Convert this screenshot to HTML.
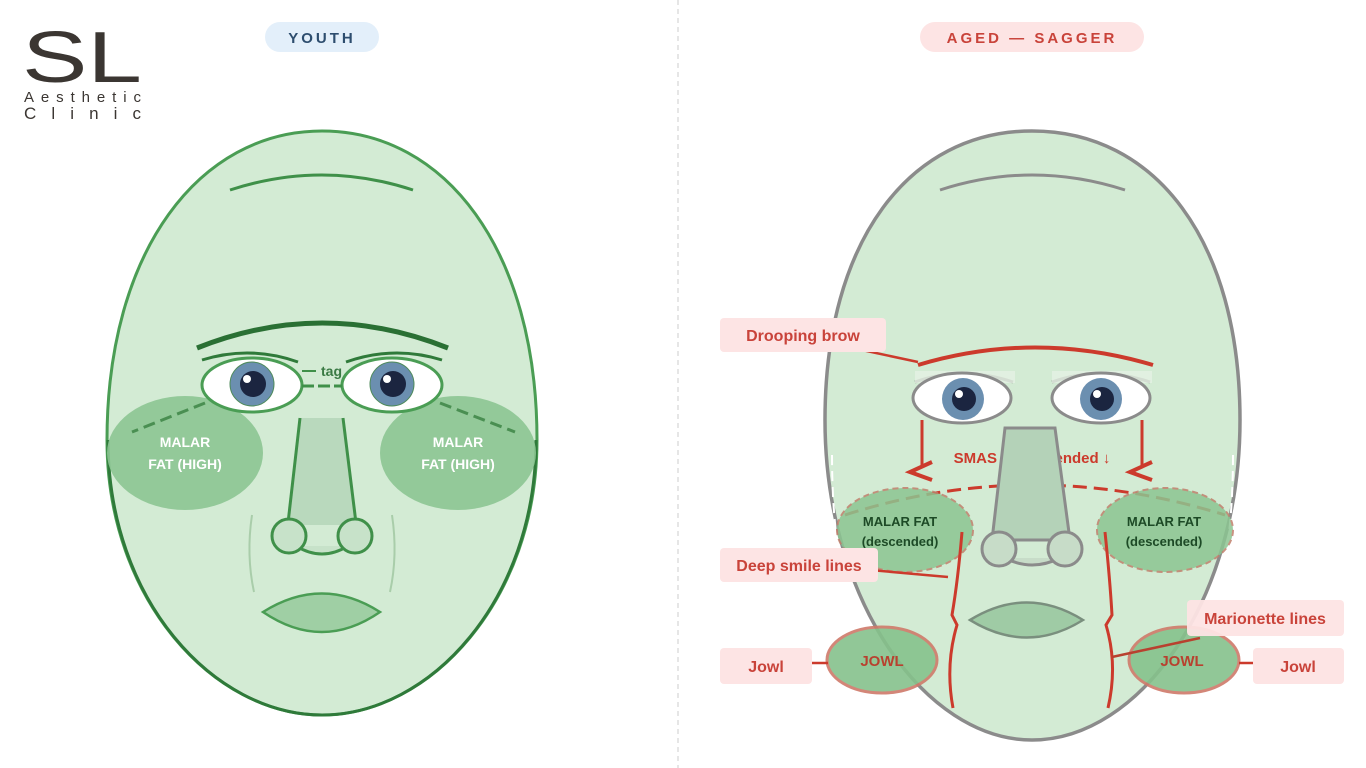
<!DOCTYPE html>
<html><head><meta charset="utf-8"><style>
html,body{margin:0;padding:0;background:#fff;}
svg{display:block;font-family:"Liberation Sans",sans-serif;}
</style></head><body>
<svg width="1366" height="768" viewBox="0 0 1366 768" xmlns="http://www.w3.org/2000/svg">
<rect width="1366" height="768" fill="#fff"/>
<line x1="678" y1="0" x2="678" y2="768" stroke="#ddd" stroke-width="1.5" stroke-dasharray="5,4"/>
<!-- logo -->
<text x="22" y="82" font-size="72" fill="#3b3632" textLength="120" lengthAdjust="spacingAndGlyphs" style="font-weight:300">SL</text>
<text x="24" y="102" font-size="15" fill="#3b3632" textLength="117" lengthAdjust="spacing">Aesthetic</text>
<text x="24" y="119" font-size="17" fill="#3b3632" textLength="117" lengthAdjust="spacing">Clinic</text>
<!-- pills -->
<rect x="265" y="22" width="114" height="30" rx="15" fill="#e3effa"/>
<text x="322" y="43" font-size="15" font-weight="bold" fill="#2d4d6e" text-anchor="middle" letter-spacing="3">YOUTH</text>
<rect x="920" y="22" width="224" height="30" rx="15" fill="#fde4e4"/>
<text x="1032" y="43" font-size="15" font-weight="bold" fill="#c9433a" text-anchor="middle" letter-spacing="3">AGED — SAGGER</text>

<!-- LEFT FACE -->
<path d="M322,131 C445,131 537,250 537,440 C537,600 430,715 322,715 C214,715 107,600 107,440 C107,250 200,131 322,131Z" fill="#d3ebd4" stroke="#4a9d54" stroke-width="3"/>
<path d="M108,440 C108,600 214,715 322,715 C430,715 536,600 536,440" fill="none" stroke="#2f7a3a" stroke-width="3"/>
<path d="M230,190 Q322,160 413,190" fill="none" stroke="#3f9049" stroke-width="3"/>
<path d="M197,348 Q322,298 448,348" fill="none" stroke="#2a7034" stroke-width="5"/>
<!-- malar -->
<ellipse cx="185" cy="453" rx="78" ry="57" fill="#8cc592" opacity="0.9"/>
<ellipse cx="458" cy="453" rx="78" ry="57" fill="#8cc592" opacity="0.9"/>
<path d="M205,403 L132,432" stroke="#4a8f52" stroke-width="3" stroke-dasharray="12,6" fill="none"/>
<path d="M440,403 L515,432" stroke="#4a8f52" stroke-width="3" stroke-dasharray="12,6" fill="none"/>
<text x="185" y="447" font-size="14" font-weight="bold" fill="#fff" text-anchor="middle">MALAR</text>
<text x="185" y="469" font-size="14" font-weight="bold" fill="#fff" text-anchor="middle">FAT (HIGH)</text>
<text x="458" y="447" font-size="14" font-weight="bold" fill="#fff" text-anchor="middle">MALAR</text>
<text x="458" y="469" font-size="14" font-weight="bold" fill="#fff" text-anchor="middle">FAT (HIGH)</text>
<!-- eyes -->
<path d="M202,360 Q250,345 298,362" fill="none" stroke="#2f7a3a" stroke-width="3"/>
<path d="M346,362 Q394,345 442,360" fill="none" stroke="#2f7a3a" stroke-width="3"/>
<ellipse cx="252" cy="385" rx="50" ry="27" fill="#fff" stroke="#4a9d54" stroke-width="3"/>
<ellipse cx="392" cy="385" rx="50" ry="27" fill="#fff" stroke="#4a9d54" stroke-width="3"/>
<circle cx="252" cy="384" r="22" fill="#6b8fb0" stroke="#4e8a5a" stroke-width="1"/>
<circle cx="253" cy="384" r="13" fill="#1b2540"/>
<circle cx="247" cy="379" r="4" fill="#fff"/>
<circle cx="392" cy="384" r="22" fill="#6b8fb0" stroke="#4e8a5a" stroke-width="1"/>
<circle cx="393" cy="384" r="13" fill="#1b2540"/>
<circle cx="387" cy="379" r="4" fill="#fff"/>
<line x1="302" y1="386" x2="342" y2="386" stroke="#3f9049" stroke-width="3" stroke-dasharray="12,4"/>
<line x1="302" y1="371" x2="316" y2="371" stroke="#3f9049" stroke-width="2"/>
<text x="321" y="376" font-size="14" font-weight="bold" fill="#3a7a44">tag</text>
<!-- nose -->
<polygon points="300,418 343,418 356,525 288,525" fill="#b9d9bd"/>
<line x1="300" y1="418" x2="288" y2="523" stroke="#3f9049" stroke-width="3"/>
<line x1="343" y1="418" x2="356" y2="523" stroke="#3f9049" stroke-width="3"/>
<path d="M296,546 Q322,562 348,546" fill="#c7e2c9" stroke="#3f9049" stroke-width="3"/>
<circle cx="289" cy="536" r="17" fill="#c7e2c9" stroke="#3f9049" stroke-width="3"/>
<circle cx="355" cy="536" r="17" fill="#c7e2c9" stroke="#3f9049" stroke-width="3"/>
<path d="M252,515 Q246,555 254,592" fill="none" stroke="#a9cdaa" stroke-width="2"/>
<path d="M392,515 Q398,555 390,592" fill="none" stroke="#a9cdaa" stroke-width="2"/>
<path d="M263,612 Q322,575 380,612 Q322,652 263,612Z" fill="#9fcfa4" stroke="#4a9d54" stroke-width="2.5"/>

<!-- RIGHT FACE -->
<path d="M1032,131 C1155,131 1240,240 1240,420 C1240,600 1140,740 1032,740 C925,740 825,600 825,420 C825,240 910,131 1032,131Z" fill="#d3ebd4" stroke="#8b8b8b" stroke-width="3.5"/>
<path d="M832,455 C832,560 850,620 880,680" fill="none" stroke="#fff" stroke-width="2" stroke-dasharray="10,6"/>
<path d="M1233,455 C1233,560 1215,620 1185,680" fill="none" stroke="#fff" stroke-width="2" stroke-dasharray="10,6"/>
<path d="M940,190 Q1032,160 1125,190" fill="none" stroke="#8b8b8b" stroke-width="3"/>
<path d="M918,365 Q1035,330 1153,365" fill="none" stroke="#cc3a2c" stroke-width="4"/>
<!-- eyes -->
<path d="M915,382 Q962,365 1013,382" fill="none" stroke="#8b8b8b" stroke-width="3"/>
<path d="M1052,382 Q1100,365 1150,382" fill="none" stroke="#8b8b8b" stroke-width="3"/>
<rect x="915" y="371" width="100" height="12" fill="#e5f1e4" opacity="0.8"/>
<rect x="1052" y="371" width="100" height="12" fill="#e5f1e4" opacity="0.8"/>
<ellipse cx="962" cy="398" rx="49" ry="25" fill="#fff" stroke="#8b8b8b" stroke-width="3"/>
<ellipse cx="1101" cy="398" rx="49" ry="25" fill="#fff" stroke="#8b8b8b" stroke-width="3"/>
<circle cx="963" cy="399" r="21" fill="#6b8fb0"/>
<circle cx="964" cy="399" r="12" fill="#1b2540"/>
<circle cx="959" cy="394" r="4" fill="#fff"/>
<circle cx="1101" cy="399" r="21" fill="#6b8fb0"/>
<circle cx="1102" cy="399" r="12" fill="#1b2540"/>
<circle cx="1097" cy="394" r="4" fill="#fff"/>
<!-- SMAS -->
<polyline points="922,420 922,465" fill="none" stroke="#cc3a2c" stroke-width="3"/>
<polyline points="932,462 910,472 932,480" fill="none" stroke="#cc3a2c" stroke-width="4"/>
<polyline points="1142,420 1142,465" fill="none" stroke="#cc3a2c" stroke-width="3"/>
<polyline points="1152,462 1130,472 1152,480" fill="none" stroke="#cc3a2c" stroke-width="4"/>
<text x="1032" y="463" font-size="15" font-weight="bold" fill="#cc3a2c" text-anchor="middle">SMAS — descended ↓</text>
<path d="M845,515 Q1032,455 1225,515" fill="none" stroke="#cc3a2c" stroke-width="3" stroke-dasharray="14,7"/>
<!-- malar -->
<ellipse cx="905" cy="530" rx="68" ry="42" fill="#8cc592" opacity="0.85" stroke="#c0806c" stroke-width="2" stroke-dasharray="6,4"/>
<ellipse cx="1165" cy="530" rx="68" ry="42" fill="#8cc592" opacity="0.85" stroke="#c0806c" stroke-width="2" stroke-dasharray="6,4"/>
<text x="900" y="526" font-size="13" font-weight="bold" fill="#1d4a26" text-anchor="middle">MALAR FAT</text>
<text x="900" y="546" font-size="13" font-weight="bold" fill="#1d4a26" text-anchor="middle">(descended)</text>
<text x="1164" y="526" font-size="13" font-weight="bold" fill="#1d4a26" text-anchor="middle">MALAR FAT</text>
<text x="1164" y="546" font-size="13" font-weight="bold" fill="#1d4a26" text-anchor="middle">(descended)</text>
<!-- nose -->
<polygon points="1005,428 1055,428 1070,540 992,540" fill="#b4d2b8" stroke="#8b8b8b" stroke-width="3"/>
<path d="M1005,558 Q1032,572 1060,558" fill="#c7dcc8" stroke="#8b8b8b" stroke-width="3"/>
<circle cx="999" cy="549" r="17" fill="#c7dcc8" stroke="#8b8b8b" stroke-width="3"/>
<circle cx="1065" cy="549" r="17" fill="#c7dcc8" stroke="#8b8b8b" stroke-width="3"/>
<!-- smile/marionette -->
<path d="M962,532 Q958,580 952,615 L957,625 Q945,665 953,708" fill="none" stroke="#cc3a2c" stroke-width="3"/>
<path d="M1105,532 Q1110,580 1112,615 L1106,625 Q1118,665 1108,708" fill="none" stroke="#cc3a2c" stroke-width="3"/>
<path d="M970,620 Q1027,585 1083,620 Q1027,655 970,620Z" fill="#9fcba5" stroke="#7a8f7e" stroke-width="2.5"/>
<!-- jowls -->
<ellipse cx="882" cy="660" rx="55" ry="33" fill="#86c28c" opacity="0.9" stroke="#cf7a6a" stroke-width="3"/>
<ellipse cx="1184" cy="660" rx="55" ry="33" fill="#86c28c" opacity="0.9" stroke="#cf7a6a" stroke-width="3"/>
<text x="882" y="666" font-size="15" font-weight="bold" fill="#b8412f" text-anchor="middle">JOWL</text>
<text x="1182" y="666" font-size="15" font-weight="bold" fill="#b8412f" text-anchor="middle">JOWL</text>
<!-- labels -->
<line x1="862" y1="350" x2="918" y2="362" stroke="#cc3a2c" stroke-width="2.5"/>
<rect x="720" y="318" width="166" height="34" rx="4" fill="#fde4e4"/>
<text x="803" y="341" font-size="16" font-weight="bold" fill="#c9433a" text-anchor="middle">Drooping brow</text>
<line x1="870" y1="570" x2="948" y2="577" stroke="#cc3a2c" stroke-width="2.5"/>
<rect x="720" y="548" width="158" height="34" rx="4" fill="#fde4e4"/>
<text x="799" y="571" font-size="16" font-weight="bold" fill="#c9433a" text-anchor="middle">Deep smile lines</text>
<line x1="810" y1="663" x2="828" y2="663" stroke="#cc3a2c" stroke-width="2.5"/>
<rect x="720" y="648" width="92" height="36" rx="4" fill="#fde4e4"/>
<text x="766" y="672" font-size="16" font-weight="bold" fill="#c9433a" text-anchor="middle">Jowl</text>
<line x1="1112" y1="657" x2="1200" y2="638" stroke="#b8412f" stroke-width="2.5"/>
<rect x="1187" y="600" width="157" height="36" rx="4" fill="#fde4e4" opacity="0.95"/>
<text x="1265" y="624" font-size="16" font-weight="bold" fill="#c9433a" text-anchor="middle">Marionette lines</text>
<line x1="1239" y1="663" x2="1255" y2="663" stroke="#cc3a2c" stroke-width="2.5"/>
<rect x="1253" y="648" width="91" height="36" rx="4" fill="#fde4e4"/>
<text x="1298" y="672" font-size="16" font-weight="bold" fill="#c9433a" text-anchor="middle">Jowl</text>
</svg>
</body></html>
